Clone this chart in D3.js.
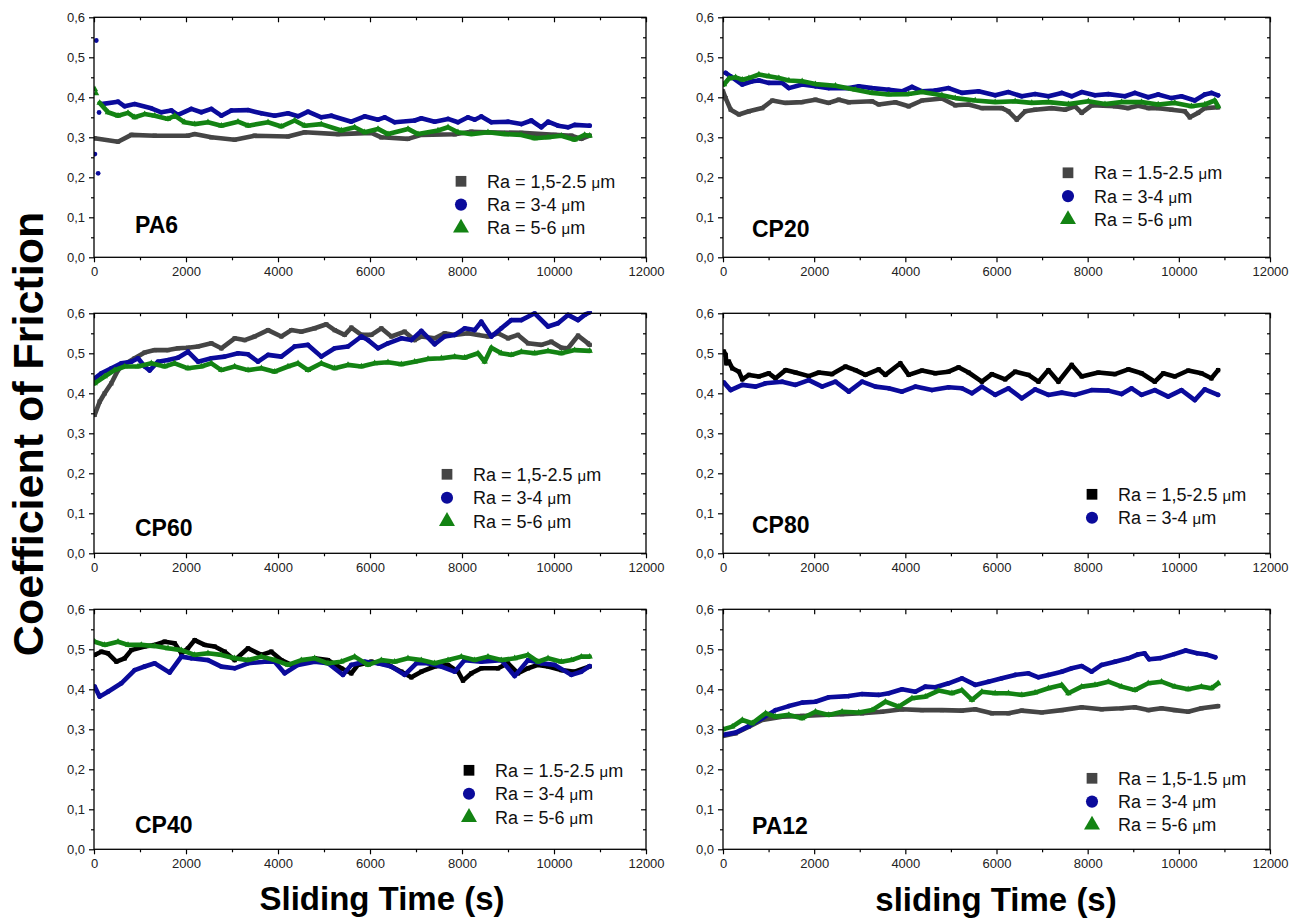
<!DOCTYPE html>
<html>
<head>
<meta charset="utf-8">
<script src="https://cdn.jsdelivr.net/npm/d3@7"></script>
<style>
  body { margin: 0; background: #fff; }
  svg { display: block; }
  text { font-family: "Liberation Sans", Arial, sans-serif; }
</style>
</head>
<body>
<svg width="1303" height="920"></svg>
<script>
// axis ticks
let timeTicks = [0, 2000, 4000, 6000, 8000, 10000, 12000]
let timeMinor = [1000, 3000, 5000, 7000, 9000, 11000]
let cofTicks = [0, 0.1, 0.2, 0.3, 0.4, 0.5, 0.6]
let cofMinor = [0.05, 0.15, 0.25, 0.35, 0.45, 0.55]

let panelNames = ['PA6', 'CP20', 'CP60', 'CP80', 'CP40', 'PA12']

// [time (s), coefficient of friction]
let pa6Gray = [[14,.2975],[522,.289],[812,.306],[1319,.304],[2043,.304],[2188,.308],[2551,.300],[3058,.294],[3493,.304],[4217,.302],[4580,.3125],[5304,.308],[6029,.311],[6246,.300],[6826,.296],[7116,.306],[7841,.3075],[8203,.314],[8565,.3125],[9290,.311],[10014,.306],[10377,.304],[10594,.296],[10775,.304]]
let pa6Blue = [[159,.383],[522,.389],[667,.3775],[884,.383],[1246,.3725],[1464,.3625],[1681,.367],[1826,.356],[2116,.371],[2333,.3625],[2551,.371],[2768,.354],[2986,.367],[3348,.368],[3638,.36],[3928,.354],[4217,.36],[4435,.3525],[4652,.364],[4942,.35],[5159,.354],[5594,.339],[5884,.3525],[6174,.344],[6319,.35],[6536,.3375],[6971,.342],[7116,.3475],[7406,.339],[7696,.346],[7913,.3375],[8130,.35],[8275,.344],[8420,.352],[8638,.3375],[9000,.339],[9290,.333],[9507,.342],[9725,.325],[9870,.339],[10087,.329],[10304,.325],[10449,.331],[10775,.329]]
let pa6BlueSpikes = [[20,.258],[50,.542],[90,.21],[110,.362]]
let pa6Green = [[123,.386],[304,.3625],[522,.354],[739,.361],[884,.35],[1101,.358],[1319,.354],[1609,.346],[1754,.354],[1971,.3375],[2188,.333],[2478,.3375],[2768,.329],[3130,.339],[3348,.329],[3783,.3375],[4072,.327],[4362,.342],[4580,.329],[4942,.333],[5377,.317],[5667,.325],[5884,.3125],[6174,.321],[6391,.308],[6826,.321],[7043,.308],[7478,.317],[7696,.325],[7913,.3125],[8203,.308],[8565,.3125],[8928,.308],[9290,.306],[9580,.2975],[9870,.30],[10159,.304],[10449,.294],[10667,.306],[10775,.304]]
let pa6GreenSpikes = [[20,.42],[45,.41]]

let cp20Gray = [[0,.415],[58,.398],[168,.369],[350,.357],[569,.365],[861,.373],[1080,.392],[1372,.386],[1737,.388],[2029,.394],[2321,.386],[2540,.394],[2759,.3875],[3270,.39],[3416,.382],[3781,.3875],[4073,.3775],[4365,.392],[4803,.397],[5095,.38],[5387,.382],[5679,.373],[6117,.373],[6263,.365],[6445,.344],[6628,.365],[6847,.369],[7212,.373],[7504,.369],[7723,.3775],[7869,.361],[8088,.38],[8599,.3775],[8891,.373],[9109,.379],[9328,.373],[9547,.373],[9839,.369],[10131,.365],[10241,.35],[10423,.361],[10569,.373],[10861,.375]]
let cp20Blue = [[58,.461],[168,.4525],[423,.432],[642,.44],[788,.442],[1007,.436],[1299,.436],[1445,.423],[1737,.432],[2029,.4275],[2321,.423],[2759,.423],[2978,.4275],[3270,.423],[3635,.419],[3927,.415],[4146,.426],[4365,.415],[4657,.417],[4949,.423],[5241,.411],[5606,.415],[5971,.405],[6263,.413],[6555,.4025],[6847,.408],[7139,.4025],[7431,.411],[7650,.4025],[7869,.413],[8161,.405],[8453,.408],[8818,.4025],[9036,.411],[9328,.40],[9547,.407],[9839,.398],[10058,.4025],[10350,.392],[10569,.407],[10715,.411],[10861,.405]]
let cp20Green = [[22,.432],[131,.447],[277,.45],[423,.444],[569,.448],[788,.457],[1007,.4525],[1226,.448],[1445,.442],[1737,.44],[2029,.433],[2467,.429],[2905,.419],[3270,.411],[3635,.407],[4073,.408],[4365,.413],[4803,.405],[5095,.398],[5533,.392],[5971,.388],[6409,.39],[6774,.386],[7139,.388],[7577,.383],[8015,.39],[8380,.383],[8745,.388],[9182,.388],[9547,.382],[9912,.386],[10277,.3775],[10569,.382],[10788,.392],[10861,.3775]]

let cp60Gray = [[14,.346],[123,.379],[232,.40],[377,.425],[522,.458],[667,.4725],[884,.4875],[1101,.502],[1319,.508],[1609,.508],[1826,.5125],[2043,.514],[2261,.517],[2551,.525],[2768,.5125],[3058,.5375],[3275,.533],[3493,.542],[3783,.558],[4072,.542],[4290,.558],[4507,.554],[4797,.5625],[5051,.5725],[5232,.558],[5449,.546],[5594,.564],[5812,.546],[6029,.546],[6246,.5625],[6464,.542],[6754,.554],[6971,.533],[7116,.542],[7406,.5375],[7623,.55],[7841,.546],[8130,.55],[8348,.546],[8565,.542],[8783,.55],[9000,.5375],[9217,.546],[9435,.525],[9725,.521],[9942,.529],[10159,.514],[10304,.5125],[10522,.544],[10739,.525],[10775,.521]]
let cp60Blue = [[14,.4375],[159,.45],[377,.4625],[594,.475],[812,.479],[957,.4875],[1101,.467],[1210,.457],[1391,.479],[1609,.483],[1826,.489],[2043,.504],[2261,.479],[2551,.4875],[2841,.4917],[3130,.50],[3348,.4975],[3565,.479],[3783,.496],[4072,.4917],[4362,.517],[4652,.521],[4942,.4917],[5232,.5125],[5522,.517],[5812,.542],[5957,.533],[6174,.5125],[6391,.525],[6681,.5375],[6899,.533],[7116,.556],[7406,.5225],[7623,.542],[7841,.546],[8058,.5625],[8275,.558],[8420,.579],[8638,.542],[8855,.5625],[9072,.583],[9290,.583],[9580,.60],[9870,.567],[10087,.575],[10304,.596],[10522,.583],[10667,.596],[10775,.6025]]
let cp60Green = [[14,.425],[232,.442],[449,.458],[667,.467],[957,.467],[1246,.475],[1536,.467],[1754,.475],[2043,.4625],[2333,.467],[2551,.475],[2768,.458],[3058,.467],[3348,.458],[3638,.4625],[3928,.454],[4217,.467],[4435,.475],[4652,.458],[4942,.475],[5232,.4625],[5522,.471],[5812,.467],[6101,.475],[6391,.4775],[6681,.4725],[6971,.479],[7261,.486],[7551,.4875],[7841,.4917],[8058,.489],[8348,.50],[8493,.479],[8638,.514],[8855,.50],[9072,.496],[9290,.504],[9580,.50],[9870,.506],[10159,.50],[10449,.508],[10775,.506]]

let cp80Black = [[22,.504],[58,.496],[73,.475],[131,.479],[204,.4625],[350,.454],[423,.435],[569,.446],[788,.442],[1007,.45],[1153,.4375],[1372,.458],[1591,.452],[1883,.443],[2102,.452],[2394,.448],[2686,.467],[2905,.458],[3124,.446],[3416,.46],[3562,.446],[3891,.475],[4073,.446],[4365,.457],[4657,.45],[4949,.454],[5168,.465],[5387,.452],[5679,.429],[5898,.448],[6190,.435],[6409,.454],[6701,.446],[6920,.429],[7139,.458],[7358,.429],[7650,.471],[7869,.442],[8234,.452],[8599,.448],[8891,.46],[9182,.45],[9474,.429],[9657,.45],[9912,.442],[10204,.457],[10496,.45],[10715,.4375],[10861,.458]]
let cp80Blue = [[22,.4267],[168,.408],[423,.421],[715,.4167],[934,.425],[1299,.429],[1591,.421],[1883,.433],[2175,.4167],[2467,.429],[2759,.404],[3051,.429],[3343,.4167],[3635,.4125],[3927,.404],[4219,.4167],[4584,.408],[4949,.415],[5241,.4125],[5460,.40],[5679,.4167],[5971,.396],[6263,.4125],[6555,.3875],[6847,.41],[7139,.396],[7431,.4017],[7723,.396],[8088,.408],[8453,.4067],[8745,.398],[8964,.4125],[9182,.396],[9474,.408],[9766,.3917],[10058,.408],[10350,.383],[10569,.41],[10861,.396]]

let cp40Black = [[14,.486],[159,.494],[304,.49],[486,.469],[667,.4775],[812,.498],[1101,.507],[1319,.511],[1536,.519],[1754,.515],[1899,.49],[2043,.5025],[2188,.523],[2406,.511],[2623,.507],[2841,.494],[3058,.473],[3348,.5025],[3638,.486],[3855,.494],[4072,.473],[4290,.461],[4507,.465],[4797,.4775],[5087,.473],[5377,.4525],[5594,.44],[5739,.461],[6029,.469],[6391,.461],[6681,.444],[6899,.43],[7116,.444],[7406,.457],[7696,.461],[7913,.444],[8022,.4217],[8203,.44],[8420,.4525],[8783,.4525],[9000,.465],[9217,.44],[9435,.4525],[9652,.461],[9870,.457],[10159,.448],[10449,.444],[10775,.457]]
let cp40Blue = [[14,.4067],[123,.3817],[304,.394],[594,.415],[884,.448],[1101,.457],[1319,.465],[1645,.4417],[1899,.4817],[2116,.4775],[2478,.473],[2768,.4567],[3058,.4525],[3348,.465],[3710,.469],[3928,.469],[4145,.44],[4435,.461],[4797,.469],[5087,.465],[5413,.436],[5594,.461],[5884,.469],[6174,.465],[6464,.4567],[6754,.436],[7007,.465],[7261,.465],[7551,.4567],[7841,.444],[8058,.473],[8420,.469],[8855,.473],[9145,.433],[9435,.473],[9725,.465],[10014,.461],[10377,.436],[10594,.444],[10775,.458]]
let cp40Green = [[14,.519],[232,.511],[522,.519],[739,.511],[1029,.511],[1319,.508],[1609,.5025],[1899,.498],[2188,.486],[2478,.49],[2768,.486],[3058,.4775],[3348,.473],[3638,.4817],[3928,.473],[4217,.461],[4507,.473],[4797,.4775],[5087,.465],[5377,.469],[5667,.4817],[5957,.461],[6246,.473],[6536,.469],[6826,.4775],[7116,.473],[7406,.465],[7696,.473],[7986,.4817],[8275,.473],[8565,.4817],[8855,.473],[9145,.4775],[9435,.486],[9652,.469],[9870,.4775],[10159,.469],[10377,.473],[10594,.4817],[10775,.4817]]

let pa12Gray = [[0,.2833],[277,.29],[569,.3067],[861,.3233],[1299,.3317],[1737,.3333],[2175,.336],[2613,.338],[3051,.34],[3489,.344],[3927,.35],[4365,.348],[4803,.348],[5241,.3467],[5533,.35],[5898,.34],[6263,.34],[6555,.3467],[6993,.342],[7431,.348],[7869,.355],[8307,.35],[8745,.3525],[9036,.355],[9328,.348],[9620,.3525],[9912,.348],[10204,.344],[10496,.3525],[10861,.358]]
let pa12Blue = [[0,.286],[277,.2917],[569,.308],[861,.3275],[1153,.348],[1445,.358],[1737,.3667],[2029,.369],[2321,.38],[2759,.383],[3051,.388],[3416,.386],[3635,.39],[3927,.40],[4219,.394],[4438,.4067],[4657,.405],[4949,.415],[5241,.4275],[5533,.411],[5825,.419],[6117,.4275],[6409,.436],[6701,.44],[6920,.43],[7139,.436],[7431,.444],[7650,.4525],[7869,.458],[8088,.444],[8307,.461],[8599,.469],[8891,.4775],[9100,.487],[9250,.49],[9350,.475],[9600,.478],[9900,.488],[10150,.497],[10400,.49],[10600,.487],[10800,.48]]
let pa12Green = [[0,.30],[204,.3067],[423,.3233],[642,.315],[934,.34],[1153,.3317],[1445,.336],[1737,.3275],[2029,.344],[2321,.336],[2613,.344],[2978,.342],[3270,.348],[3562,.369],[3854,.3567],[4146,.3775],[4438,.3817],[4730,.3967],[5022,.39],[5241,.398],[5460,.3733],[5679,.394],[5971,.39],[6263,.39],[6555,.386],[6847,.3917],[7139,.4025],[7431,.411],[7577,.39],[7869,.4067],[8161,.411],[8453,.419],[8745,.4067],[9036,.398],[9328,.415],[9620,.419],[9912,.4067],[10204,.40],[10496,.4067],[10715,.4025],[10861,.415]]

let legendPA6 = ['Ra = 1,5-2.5 ', 'Ra = 3-4 ', 'Ra = 5-6 ']
let legendCP20 = ['Ra = 1.5-2.5 ', 'Ra = 3-4 ', 'Ra = 5-6 ']
let legendCP60 = ['Ra = 1,5-2.5 ', 'Ra = 3-4 ', 'Ra = 5-6 ']
let legendCP80 = ['Ra = 1,5-2.5 ', 'Ra = 3-4 ']
let legendCP40 = ['Ra = 1.5-2.5 ', 'Ra = 3-4 ', 'Ra = 5-6 ']
let legendPA12 = ['Ra = 1,5-1.5 ', 'Ra = 3-4 ', 'Ra = 5-6 ']

// styles
let gray = { color: '#454545', shape: d3.symbolSquare }
let black = { color: '#000000', shape: d3.symbolSquare }
let blue = { color: '#0b0b9b', shape: d3.symbolCircle }
let green = { color: '#138313', shape: d3.symbolTriangle }

let cols = [{ left: 94, right: 646 }, { left: 723, right: 1270 }]
let rows = [{ top: 17.3, bottom: 257.3 }, { top: 313.3, bottom: 553.3 }, { top: 609.3, bottom: 849.3 }]

let panels = [
  { name: panelNames[0], col: 0, row: 0, labelDy: 216, legendX: 367, legendY: 164, legendDy: 23.3, legend: legendPA6,
    series: [[pa6Gray, gray], [pa6Blue, blue, pa6BlueSpikes], [pa6Green, green, pa6GreenSpikes]] },
  { name: panelNames[1], col: 1, row: 0, labelDy: 220, legendX: 345, legendY: 155.5, legendDy: 23.3, legend: legendCP20,
    series: [[cp20Gray, gray], [cp20Blue, blue], [cp20Green, green]] },
  { name: panelNames[2], col: 0, row: 1, labelDy: 223, legendX: 353, legendY: 161, legendDy: 23.5, legend: legendCP60,
    series: [[cp60Gray, gray], [cp60Blue, blue], [cp60Green, green]] },
  { name: panelNames[3], col: 1, row: 1, labelDy: 220, legendX: 369, legendY: 181, legendDy: 23.5, legend: legendCP80,
    series: [[cp80Black, black], [cp80Blue, blue]] },
  { name: panelNames[4], col: 0, row: 2, labelDy: 224, legendX: 375, legendY: 161, legendDy: 23.5, legend: legendCP40,
    series: [[cp40Black, black], [cp40Blue, blue], [cp40Green, green]] },
  { name: panelNames[5], col: 1, row: 2, labelDy: 225, legendX: 369, legendY: 169, legendDy: 23.3, legend: legendPA12,
    series: [[pa12Gray, gray], [pa12Blue, blue], [pa12Green, green]] }
]

let svg = d3.select('svg')
let commaFmt = d => d3.format('.1f')(d).replace('.', ',')

panels.forEach((p, i) => {
  let c = cols[p.col]
  let r = rows[p.row]
  let xScale = d3.scaleLinear().domain([0, 12000]).range([c.left, c.right])
  let yScale = d3.scaleLinear().domain([0, 0.6]).range([r.bottom, r.top])
  let g = svg.append('g')

  // clip
  let clipId = 'clip' + i
  g.append('clipPath').attr('id', clipId)
    .append('rect')
    .attr('x', c.left).attr('y', r.top - 2)
    .attr('width', c.right - c.left).attr('height', r.bottom - r.top + 2)

  let plot = g.append('g').attr('clip-path', `url(#${clipId})`)
  let line = d3.line()
    .x(d => xScale(d[0]))
    .y(d => yScale(d[1]))

  p.series.forEach(([data, style, spikes]) => {
    plot.append('path')
      .attr('d', line(data))
      .attr('fill', 'none')
      .attr('stroke', style.color)
      .attr('stroke-width', 4.6)
      .attr('stroke-linejoin', 'round')
      .attr('stroke-linecap', 'round')
    plot.selectAll(null)
      .data(data.concat(spikes || []))
      .enter()
      .append('path')
      .attr('d', d3.symbol().type(style.shape).size(18))
      .attr('transform', d => `translate(${xScale(d[0])},${yScale(d[1])})`)
      .attr('fill', style.color)
  })

  // axes
  let styleAxis = sel => {
    sel.select('.domain').remove()
    sel.selectAll('line').attr('stroke', '#000').attr('stroke-width', 1.2)
    sel.selectAll('text').attr('font-size', 13).attr('fill', '#222')
  }
  g.append('g').attr('transform', `translate(0,${r.bottom})`)
    .call(d3.axisBottom(xScale).tickValues(timeTicks).tickSize(5).tickPadding(4).tickFormat(d3.format('d')))
    .call(styleAxis)
  g.append('g').attr('transform', `translate(0,${r.bottom})`)
    .call(d3.axisBottom(xScale).tickValues(timeMinor).tickSize(3).tickFormat(''))
    .call(styleAxis)
  g.append('g').attr('transform', `translate(0,${r.top})`)
    .call(d3.axisTop(xScale).tickValues(timeTicks).tickSize(-5).tickFormat(''))
    .call(styleAxis)
  g.append('g').attr('transform', `translate(0,${r.top})`)
    .call(d3.axisTop(xScale).tickValues(timeMinor).tickSize(-3).tickFormat(''))
    .call(styleAxis)
  g.append('g').attr('transform', `translate(${c.left},0)`)
    .call(d3.axisLeft(yScale).tickValues(cofTicks).tickSize(5).tickPadding(4).tickFormat(commaFmt))
    .call(styleAxis)
  g.append('g').attr('transform', `translate(${c.left},0)`)
    .call(d3.axisLeft(yScale).tickValues(cofMinor).tickSize(3).tickFormat(''))
    .call(styleAxis)
  g.append('g').attr('transform', `translate(${c.right},0)`)
    .call(d3.axisRight(yScale).tickValues(cofTicks).tickSize(-5).tickFormat(''))
    .call(styleAxis)
  g.append('g').attr('transform', `translate(${c.right},0)`)
    .call(d3.axisRight(yScale).tickValues(cofMinor).tickSize(-3).tickFormat(''))
    .call(styleAxis)

  g.append('rect')
    .attr('x', c.left).attr('y', r.top)
    .attr('width', c.right - c.left).attr('height', r.bottom - r.top)
    .attr('fill', 'none').attr('stroke', '#000').attr('stroke-width', 1.3)

  // panel label
  g.append('text')
    .attr('x', c.left + (p.col === 0 ? 41 : 29))
    .attr('y', r.top + p.labelDy)
    .attr('font-size', 23).attr('font-weight', 'bold')
    .text(p.name)

  // legend
  p.legend.forEach((label, k) => {
    let style = p.series[k][1]
    let ly = r.top + p.legendY + k * p.legendDy
    g.append('path')
      .attr('d', d3.symbol().type(style.shape).size(style.shape === d3.symbolTriangle ? 110 : 115))
      .attr('transform', `translate(${c.left + p.legendX},${ly})`)
      .attr('fill', style.color)
    let t = g.append('text')
      .attr('x', c.left + p.legendX + 26)
      .attr('y', ly + 6.5)
      .attr('font-size', 18)
      .attr('fill', '#111')
      .text(label)
    t.append('tspan').attr('font-size', 15).text('μ')
    t.append('tspan').text('m')
  })
})

// axis titles
svg.append('text')
  .attr('transform', 'translate(43,434) rotate(-90)')
  .attr('text-anchor', 'middle')
  .attr('font-size', 43).attr('font-weight', 'bold')
  .text('Coefficient of Friction')

svg.append('text')
  .attr('x', 382).attr('y', 910)
  .attr('text-anchor', 'middle')
  .attr('font-size', 33).attr('font-weight', 'bold')
  .text('Sliding Time (s)')

svg.append('text')
  .attr('x', 996).attr('y', 911)
  .attr('text-anchor', 'middle')
  .attr('font-size', 33).attr('font-weight', 'bold')
  .text('sliding Time (s)')
</script>
</body>
</html>
